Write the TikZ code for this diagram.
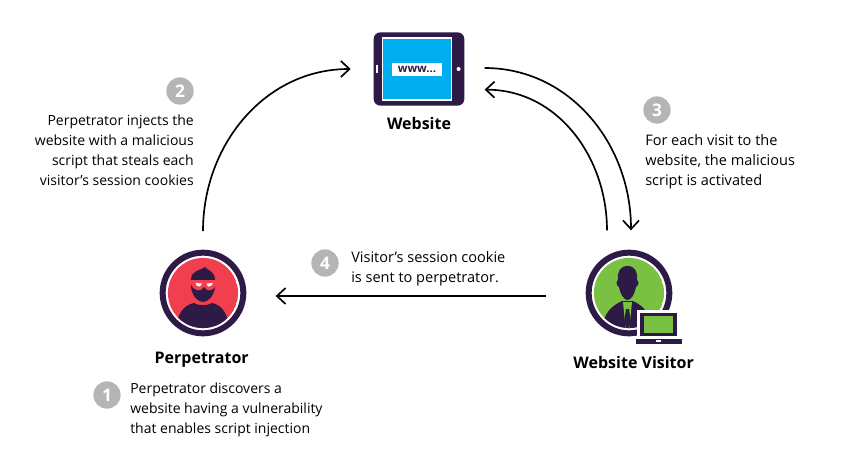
\documentclass[tikz,border=0pt]{standalone}
\usepackage{fontspec}
\setmainfont{Open Sans}
\usetikzlibrary{positioning,arrows.meta,calc}
\definecolor{iconpurple}{HTML}{2E1A47}
\definecolor{threatred}{HTML}{F0404F}
\definecolor{visitgreen}{HTML}{7AC143}
\definecolor{screenblue}{HTML}{00AEEF}
\definecolor{stepgrey}{HTML}{B5B5B5}
\tikzset{
  flow/.style={draw=black, line width=1.25pt, -{Straight Barb[length=6.5pt,width=12pt,line width=1.25pt]}},
  badge/.style={circle, fill=stepgrey, text=white, font=\fontsize{13}{13}\selectfont\bfseries, minimum size=20.5pt, inner sep=0pt},
  actor/.style={circle, fill=white, draw=iconpurple, line width=4.5pt, minimum size=60.5pt, inner sep=0pt},
  title/.style={font=\fontsize{12}{14}\selectfont\bfseries, text=black, inner sep=0pt},
  note/.style={font=\fontsize{10.5}{15}\selectfont, text=black, inner sep=0pt},
  widenote/.style={font=\fontsize{10.9}{15}\selectfont, text=black, inner sep=0pt},
}
\begin{document}
\begin{tikzpicture}[x=0.75pt, y=-0.75pt]
  \useasboundingbox (0,0) rectangle (858,457);

  % website tablet
  \node[fill=iconpurple, rounded corners=5pt, minimum width=68pt, minimum height=55pt, inner sep=0pt] (Website) at (419,69) {};
  \node[draw=white, line width=1pt, fill=screenblue, minimum width=52pt, minimum height=46.5pt, inner sep=0pt] (Screen) at (417,69) {};
  \node[fill=white, text=iconpurple, font=\fontsize{8.5}{9}\selectfont\bfseries, minimum width=37.5pt, minimum height=10pt, inner sep=0pt] (Url) at (417,69.5) {www...};
  \node[fill=white, minimum width=1.6pt, minimum height=6pt, inner sep=0pt, left=2.5pt of Screen] (Home) {};
  \node[circle, fill=white, minimum size=3pt, inner sep=0pt, right=3pt of Screen] (Cam) {};
  \node[title, below=8pt of Website] (WebsiteLabel) {Website};

  % perpetrator
  \node[actor] (Perpetrator) at (203,293) {};
  \begin{scope}
    \clip (203,293) circle (26.3pt);
    \fill[threatred] (203,293) circle (26.3pt);
    \fill[iconpurple] (176,332) .. controls (176,314) and (184,305) .. (194,303) .. controls (199,306) and (207,306) .. (212,303) .. controls (222,305) and (229,314) .. (229,332) -- cycle;
  \end{scope}
  \fill[iconpurple] (191,280) .. controls (191,270) and (200,271) .. (205,267) .. controls (207,270) and (215,271) .. (215,280) -- (215,287) .. controls (214,296) and (208,302) .. (203,302) .. controls (198,302) and (192,296) .. (191,287) -- cycle;
  \fill[threatred] (191,280) -- (216,280) -- (216,284) .. controls (214,292) and (207,292) .. (204,287) .. controls (201,292) and (194,292) .. (191,284) -- cycle;
  \fill[white] (195.5,283) -- (202,283.5) -- (200,286.5) -- (197,286) -- cycle (213,283) -- (206.5,283.5) -- (208,286.5) -- (211,286) -- cycle;
  \node[title, below=11.5pt of Perpetrator, xshift=-1pt] (PerpetratorLabel) {Perpetrator};

  % visitor
  \node[actor] (Visitor) at (629,293) {};
  \begin{scope}
    \clip (629,293) circle (26.3pt);
    \fill[visitgreen] (629,293) circle (26.3pt);
    \fill[iconpurple] (602,332) .. controls (603,312) and (612,306) .. (622,301) -- (633,301) .. controls (643,306) and (651,312) .. (652,332) -- cycle;
    \fill[visitgreen] (623,302) -- (632,302) -- (631,312) -- (629,332) -- (626,332) -- (624,312) -- cycle;
    \fill[iconpurple] (626,309) -- (629,309) -- (631,323) -- (627.5,330) -- (624,323) -- cycle;
  \end{scope}
  \fill[iconpurple] (627.5,266) .. controls (635,266) and (638,272) .. (637,280) .. controls (640,282) and (638,286) .. (636,287) .. controls (635,294) and (631,300) .. (627.5,300) .. controls (624,300) and (620,294) .. (619,287) .. controls (617,286) and (615,282) .. (618,280) .. controls (617,272) and (620,266) .. (627.5,266) -- cycle;
  \node[draw=white, line width=2pt, fill=iconpurple, minimum width=36.5pt, minimum height=5.75pt, inner sep=0pt] (LaptopBase) at (659,341.5) {};
  \node[draw=white, line width=2pt, fill=iconpurple, minimum width=29.75pt, minimum height=19.25pt, inner sep=0pt] (Laptop) at (658.5,324.5) {};
  \node[fill=visitgreen, minimum width=21.75pt, minimum height=12.75pt, inner sep=0pt] (LaptopScreen) at (658.5,324.5) {};
  \node[fill=white, minimum width=3.5pt, minimum height=1pt, inner sep=0pt] (LaptopNotch) at (658.5,341) {};
  \node[title, below=15pt of Visitor, xshift=3.5pt] (VisitorLabel) {Website Visitor};

  % steps
  \node[badge] (StepOne) at (107,395) {1};
  \node[badge] (StepTwo) at (180,91) {2};
  \node[badge] (StepThree) at (657,110) {3};
  \node[badge] (StepFour) at (325,263) {4};

  \node[note, align=left, anchor=west] (NoteOne) at (130,409.5) {Perpetrator discovers a\\website having a vulnerability\\that enables script injection};
  \node[note, align=right, anchor=east] (NoteTwo) at (194,150) {Perpetrator injects the\\website with a malicious\\script that steals each\\visitor’s session cookies};
  \node[widenote, align=left, anchor=west] (NoteThree) at (645,161.5) {For each visit to the\\website, the malicious\\script is activated};
  \node[widenote, align=left, anchor=west] (NoteFour) at (351,268.5) {Visitor’s session cookie\\is sent to perpetrator.};

  % connectors
  \draw[flow] ([yshift=14pt]Perpetrator.north) to[out=90, in=180, looseness=1] ([xshift=-17pt]Website.west);
  \draw[flow] ([xshift=15pt,yshift=0.75pt]Website.east) to[out=0, in=90, looseness=1] ([xshift=1.5pt,yshift=14.5pt]Visitor.north);
  \draw[flow] ([xshift=-16.5pt,yshift=14.5pt]Visitor.north) to[out=90, in=0, looseness=1] ([xshift=15pt,yshift=-15.5pt]Website.east);
  \draw[flow] ([xshift=-30pt,yshift=-2.25pt]Visitor.west) -- ([xshift=22pt,yshift=-2.25pt]Perpetrator.east);
\end{tikzpicture}
\end{document}
